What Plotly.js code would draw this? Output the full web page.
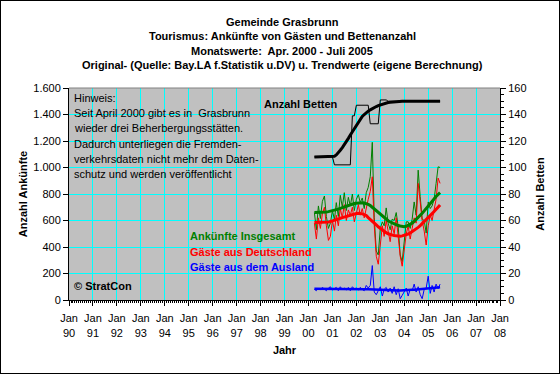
<!DOCTYPE html>
<html><head><meta charset="utf-8">
<script src="https://cdn.plot.ly/plotly-3.0.1.min.js"></script>
<style>
html,body{margin:0;padding:0;background:#fff;}
#wrap{position:relative;width:560px;height:374px;}
#chart{width:560px;height:374px;}
#frame{position:absolute;left:0;top:0;width:558px;height:372px;border:1px solid #000;pointer-events:none;}
</style></head>
<body><div id="wrap"><div id="chart"></div><div id="frame"></div></div>
<script>
// Monthly data Apr 2000 - Jul 2005
const startYear = 2000, startMonth = 4, nMonths = 64;
const deutschland = [580,460,620,540,650,700,560,450,480,600,520,640,560,690,620,720,600,680,640,700,590,670,720,640,690,620,700,760,820,930,560,330,270,440,560,480,600,520,440,560,500,620,470,330,255,380,500,560,460,540,620,580,880,740,600,520,415,560,640,600,700,760,920,880];
const ausland = [80,70,90,75,95,85,70,90,100,75,85,95,70,100,80,90,75,95,70,100,85,90,75,95,80,70,110,90,110,260,60,40,70,100,30,80,95,60,90,50,100,40,85,10,35,60,90,30,80,70,120,60,100,40,10,80,90,180,50,110,60,120,85,120];
const insgesamt = [660,530,710,615,745,785,630,540,580,675,605,735,630,790,700,810,675,775,710,800,675,760,795,735,770,690,810,850,930,1190,620,370,340,540,590,560,695,580,530,610,600,660,555,340,290,440,590,590,540,610,740,640,980,780,610,600,505,740,690,710,760,880,1005,1000];
const trendInsgesamt = [660,660,661,662,663,664,665,667,670,673,677,681,686,691,697,703,709,714,719,724,728,731,733,734,734,732,728,722,713,700,685,670,656,643,631,619,608,598,589,581,574,567,562,558,555,553,556,562,570,580,593,607,622,638,654,673,692,712,732,750,766,781,796,810];
const trendDeutschland = [584,584,584,584,585,586,587,589,592,596,601,606,611,617,622,627,632,637,642,646,650,653,654,653,650,645,638,622,610,597,582,567,553,540,528,517,508,500,494,489,486,484,482,482,484,487,492,498,506,515,525,536,548,561,575,590,604,620,636,652,668,685,701,717];
const trendAusland = [85,85,86,86,86,87,87,87,87,87,87,87,87,87,87,87,87,87,87,86,86,86,85,85,84,83,82,81,80,79,78,77,76,75,74,73,72,72,71,71,71,71,71,72,72,73,74,75,76,77,78,79,80,82,83,85,86,88,89,91,92,94,95,97];
const betten = [108,108,108,108,108,108,108,108,108,108,102,102,102,102,102,102,102,102,102,139,139,147,147,147,147,147,147,147,133,133,133,133,133,151,151,151,151,150,150,150,150,150,150,150,150,150,150,150,150,150,150,150,150,150,150,150,150,150,150,150,150,150,150,150];
const trendBetten = [108,108,108,108,108,108,108,108,108,108,108.5,109.5,111,113,115,117,119.5,122,124.5,127,129.5,132,134.5,136.5,138.5,140,141.5,142.5,143.5,144.5,145.3,146,146.7,147.3,147.8,148.3,148.7,149,149.3,149.5,149.7,149.8,149.9,150,150,150,150,150,150,150,150,150,150,150,150,150,150,150,150,150,150,150,150,150];
const titleLines = ["Gemeinde Grasbrunn","Tourismus: Ankünfte von Gästen und Bettenanzahl","Monatswerte:  Apr. 2000 - Juli 2005","Original- (Quelle: Bay.LA f.Statistik u.DV) u. Trendwerte (eigene Berechnung)"];
const hinweisLines = ["Hinweis:","Seit April 2000 gibt es in  Grasbrunn","wieder drei Beherbergungsstätten.","Dadurch unterliegen die Fremden-","verkehrsdaten nicht mehr dem Daten-","schutz und werden veröffentlicht"];

const months = [];
for (let i = 0; i < nMonths; i++) {
  const m = startMonth - 1 + i;
  const y = startYear + Math.floor(m / 12);
  const mm = (m % 12) + 1;
  months.push(y + '-' + String(mm).padStart(2, '0') + '-01');
}

const F = 'Liberation Sans, Arial, sans-serif';
const GREEN = '#008000', RED = '#FF0000', BLUE = '#0000FF';

const traces = [
  {x: months, y: insgesamt, mode: 'lines', line: {color: GREEN, width: 1}, yaxis: 'y'},
  {x: months, y: deutschland, mode: 'lines', line: {color: RED, width: 1}, yaxis: 'y'},
  {x: months, y: ausland, mode: 'lines', line: {color: BLUE, width: 1}, yaxis: 'y'},
  {x: months, y: trendInsgesamt, mode: 'lines', line: {color: GREEN, width: 3}, yaxis: 'y'},
  {x: months, y: trendDeutschland, mode: 'lines', line: {color: RED, width: 3}, yaxis: 'y'},
  {x: months, y: trendAusland, mode: 'lines', line: {color: BLUE, width: 2.5}, yaxis: 'y'},
  {x: months, y: betten, mode: 'lines', line: {color: '#000', width: 1}, yaxis: 'y2'},
  {x: months, y: trendBetten, mode: 'lines', line: {color: '#000', width: 3}, yaxis: 'y2'}
];

// helper: pixel -> paper
const L = 69, R = 500, T = 88, B = 300;
const px = v => (v - L) / (R - L);
const py = v => (B - v) / (B - T);

const annotations = [];
titleLines.forEach((t, i) => annotations.push({
  text: '<b>' + t + '</b>', xref: 'paper', yref: 'paper', x: px(282), y: py(22 + i * 14.3),
  xanchor: 'center', yanchor: 'middle', showarrow: false, font: {family: F, size: 11, color: '#000'}
}));
hinweisLines.forEach((t, i) => annotations.push({
  text: t, xref: 'paper', yref: 'paper', x: px(72), y: py(98 + i * 15.2),
  xanchor: 'left', yanchor: 'middle', showarrow: false, font: {family: F, size: 11, color: '#000'}
}));
const labels = [
  ['Anzahl Betten', 262, 104, '#000'],
  ['Ankünfte Insgesamt', 188, 236, GREEN],
  ['Gäste aus Deutschland', 188, 252, RED],
  ['Gäste aus dem Ausland', 188, 267, BLUE],
  ['© StratCon', 72, 286, '#000']
];
labels.forEach(l => annotations.push({
  text: '<b>' + l[0] + '</b>', xref: 'paper', yref: 'paper', x: px(l[1]), y: py(l[2]),
  xanchor: 'left', yanchor: 'middle', showarrow: false, font: {family: F, size: 11, color: l[3]}
}));

const layout = {
  width: 560, height: 374,
  margin: {l: L, r: 560 - R, t: T, b: 374 - B, pad: 0},
  paper_bgcolor: '#fff', plot_bgcolor: '#C0C0C0',
  showlegend: false,
  separators: ',.',
  font: {family: F, size: 11, color: '#000'},
  xaxis: {
    type: 'date', range: ['1990-01-01', '2008-01-01'], tick0: '1990-01-01', dtick: 'M12',
    tickformat: '%b<br>%y', ticks: 'outside', ticklen: 5, tickcolor: '#000', ticklabelstandoff: 3,
    showgrid: true, gridcolor: '#00FFFF', gridwidth: 1, showline: true, linecolor: '#000', linewidth: 1,
    zeroline: false, tickfont: {family: F, size: 11},
    minor: {dtick: 'M1', ticks: 'outside', ticklen: 2, tickcolor: '#000', showgrid: false},
    title: {text: '<b>Jahr</b>', font: {family: F, size: 11}, standoff: 8}
  },
  yaxis: {
    range: [0, 1600], dtick: 200, tickformat: ',d', ticks: 'outside', ticklen: 5, tickcolor: '#000',
    showgrid: true, gridcolor: '#00FFFF', gridwidth: 1, showline: true, linecolor: '#000', linewidth: 1,
    zeroline: false, tickfont: {family: F, size: 11},
    title: {text: '<b>Anzahl Ankünfte</b>', font: {family: F, size: 11}, standoff: 3}
  },
  yaxis2: {
    overlaying: 'y', side: 'right', range: [0, 160], dtick: 20, ticks: 'outside', ticklen: 5, tickcolor: '#000',
    showgrid: false, showline: true, linecolor: '#000', linewidth: 1, zeroline: false,
    tickfont: {family: F, size: 11},
    minor: {dtick: 5, ticks: 'outside', ticklen: 3, tickcolor: '#000', showgrid: false},
    title: {text: '<b>Anzahl Betten</b>', font: {family: F, size: 11}, standoff: 10}
  },
  shapes: [{type: 'line', xref: 'paper', yref: 'paper', x0: 0, x1: 1, y0: 1, y1: 1, line: {color: '#808080', width: 1}}],
  annotations: annotations
};

Plotly.newPlot('chart', traces, layout, {staticPlot: true, displayModeBar: false});
</script></body></html>
